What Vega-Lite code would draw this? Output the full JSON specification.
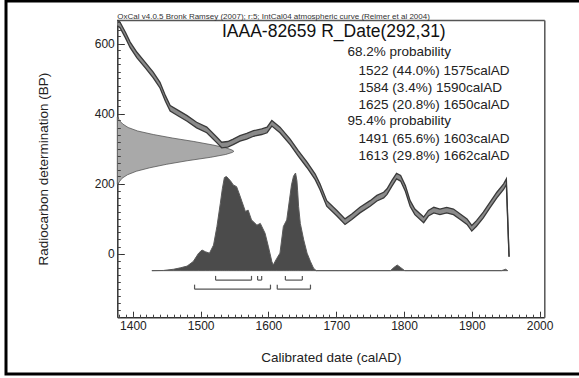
{
  "$schema": "https://vega.github.io/schema/vega-lite/v6.json",
  "width": 573,
  "height": 373,
  "autosize": "none",
  "padding": {"left": 6, "top": 1, "right": 0, "bottom": 4},
  "background": "white",
  "config": {
    "font": "Liberation Sans",
    "view": {"stroke": "black", "strokeWidth": 3, "strokeDash": [573, 373, 946]}
  },
  "datasets": {
    "curve": [
      {"year": 1377, "lo": 651, "hi": 667},
      {"year": 1381, "lo": 645, "hi": 661},
      {"year": 1389, "lo": 616, "hi": 632},
      {"year": 1396, "lo": 588, "hi": 604},
      {"year": 1406, "lo": 559, "hi": 575},
      {"year": 1418, "lo": 531, "hi": 547},
      {"year": 1430, "lo": 502, "hi": 518},
      {"year": 1440, "lo": 473, "hi": 489},
      {"year": 1448, "lo": 435, "hi": 451},
      {"year": 1455, "lo": 407, "hi": 423},
      {"year": 1467, "lo": 393, "hi": 409},
      {"year": 1480, "lo": 378, "hi": 394},
      {"year": 1494, "lo": 359, "hi": 375},
      {"year": 1509, "lo": 345, "hi": 361},
      {"year": 1524, "lo": 316, "hi": 332},
      {"year": 1531, "lo": 302, "hi": 318},
      {"year": 1540, "lo": 304, "hi": 320},
      {"year": 1548, "lo": 311, "hi": 327},
      {"year": 1558, "lo": 321, "hi": 337},
      {"year": 1568, "lo": 327, "hi": 343},
      {"year": 1578, "lo": 335, "hi": 351},
      {"year": 1590, "lo": 340, "hi": 356},
      {"year": 1598, "lo": 345, "hi": 361},
      {"year": 1605, "lo": 364, "hi": 380},
      {"year": 1617, "lo": 345, "hi": 361},
      {"year": 1632, "lo": 311, "hi": 327},
      {"year": 1644, "lo": 278, "hi": 294},
      {"year": 1657, "lo": 245, "hi": 261},
      {"year": 1669, "lo": 211, "hi": 227},
      {"year": 1676, "lo": 183, "hi": 199},
      {"year": 1686, "lo": 135, "hi": 151},
      {"year": 1701, "lo": 107, "hi": 123},
      {"year": 1713, "lo": 83, "hi": 99},
      {"year": 1723, "lo": 97, "hi": 113},
      {"year": 1735, "lo": 116, "hi": 132},
      {"year": 1750, "lo": 135, "hi": 151},
      {"year": 1760, "lo": 150, "hi": 166},
      {"year": 1770, "lo": 159, "hi": 175},
      {"year": 1775, "lo": 169, "hi": 185},
      {"year": 1782, "lo": 192, "hi": 208},
      {"year": 1789, "lo": 213, "hi": 229},
      {"year": 1795, "lo": 207, "hi": 223},
      {"year": 1802, "lo": 178, "hi": 194},
      {"year": 1809, "lo": 135, "hi": 151},
      {"year": 1816, "lo": 111, "hi": 127},
      {"year": 1829, "lo": 88, "hi": 104},
      {"year": 1836, "lo": 107, "hi": 123},
      {"year": 1844, "lo": 116, "hi": 132},
      {"year": 1853, "lo": 111, "hi": 127},
      {"year": 1863, "lo": 116, "hi": 132},
      {"year": 1873, "lo": 111, "hi": 127},
      {"year": 1883, "lo": 97, "hi": 113},
      {"year": 1893, "lo": 83, "hi": 99},
      {"year": 1900, "lo": 64, "hi": 80},
      {"year": 1907, "lo": 78, "hi": 94},
      {"year": 1917, "lo": 102, "hi": 118},
      {"year": 1927, "lo": 131, "hi": 147},
      {"year": 1937, "lo": 159, "hi": 175},
      {"year": 1947, "lo": 183, "hi": 199},
      {"year": 1951, "lo": 197, "hi": 213},
      {"year": 1955, "lo": -10, "hi": -8}
    ],
    "gauss": [
      {"bp": 198, "yr": 1378},
      {"bp": 205, "yr": 1380},
      {"bp": 215, "yr": 1384},
      {"bp": 225, "yr": 1392},
      {"bp": 235, "yr": 1405},
      {"bp": 245, "yr": 1425},
      {"bp": 255, "yr": 1450},
      {"bp": 265, "yr": 1480},
      {"bp": 275, "yr": 1515},
      {"bp": 283, "yr": 1537},
      {"bp": 289, "yr": 1547},
      {"bp": 292, "yr": 1549},
      {"bp": 296, "yr": 1546},
      {"bp": 302, "yr": 1537},
      {"bp": 310, "yr": 1518},
      {"bp": 320, "yr": 1490},
      {"bp": 330, "yr": 1458},
      {"bp": 340, "yr": 1430},
      {"bp": 350, "yr": 1407},
      {"bp": 360, "yr": 1393},
      {"bp": 370, "yr": 1385},
      {"bp": 380, "yr": 1380},
      {"bp": 390, "yr": 1378}
    ],
    "prob": [
      {"year": 1428, "p": -49}, {"year": 1445, "p": -48.5}, {"year": 1460, "p": -45},
      {"year": 1470, "p": -41}, {"year": 1480, "p": -36}, {"year": 1489, "p": -23},
      {"year": 1497, "p": 1}, {"year": 1502, "p": 10}, {"year": 1507, "p": 5},
      {"year": 1513, "p": 1}, {"year": 1519, "p": 24}, {"year": 1524, "p": 77},
      {"year": 1529, "p": 143}, {"year": 1532, "p": 185}, {"year": 1535, "p": 217},
      {"year": 1538, "p": 220}, {"year": 1541, "p": 214}, {"year": 1545, "p": 205},
      {"year": 1548, "p": 196}, {"year": 1553, "p": 191}, {"year": 1557, "p": 170},
      {"year": 1561, "p": 148}, {"year": 1566, "p": 120}, {"year": 1570, "p": 124},
      {"year": 1575, "p": 96}, {"year": 1583, "p": 81}, {"year": 1588, "p": 86},
      {"year": 1595, "p": 58}, {"year": 1600, "p": 19}, {"year": 1605, "p": -23},
      {"year": 1607, "p": -33}, {"year": 1612, "p": -15}, {"year": 1617, "p": 1},
      {"year": 1622, "p": 77}, {"year": 1627, "p": 96}, {"year": 1631, "p": 153},
      {"year": 1634, "p": 196}, {"year": 1637, "p": 221}, {"year": 1640, "p": 230},
      {"year": 1642, "p": 208}, {"year": 1643, "p": 181}, {"year": 1644.5, "p": 134},
      {"year": 1647, "p": 86}, {"year": 1652, "p": 39}, {"year": 1657, "p": 1},
      {"year": 1662, "p": -23}, {"year": 1666.5, "p": -42}, {"year": 1670.5, "p": -49},
      {"year": 1780, "p": -49}, {"year": 1785, "p": -40}, {"year": 1790, "p": -33},
      {"year": 1795, "p": -40}, {"year": 1801, "p": -49}, {"year": 1944, "p": -49},
      {"year": 1950, "p": -45}, {"year": 1953, "p": -49}
    ],
    "ranges": [
      {"from": 1522, "to": 1575, "level": "68.2%"},
      {"from": 1584, "to": 1590, "level": "68.2%"},
      {"from": 1625, "to": 1650, "level": "68.2%"},
      {"from": 1491, "to": 1603, "level": "95.4%"},
      {"from": 1613, "to": 1662, "level": "95.4%"}
    ],
    "one": [{}]
  },
  "resolve": {"axis": {"x": "independent", "y": "independent"}},
  "layer": [
    {
      "data": {"name": "gauss"},
      "mark": {"type": "area", "orient": "horizontal", "fill": "#a9a9a9", "stroke": "#555", "strokeWidth": 0.8},
      "encoding": {
        "y": {"field": "bp", "type": "quantitative",
          "scale": {"domain": [-182, 667], "range": [316.2, 19.05], "nice": false, "zero": false},
          "axis": {"orient": "left", "offset": -111.3, "values": [0, 200, 400, 600], "format": "d",
            "ticks": false, "grid": false, "domainColor": "#333", "domainWidth": 1.5,
            "labelFontSize": 12, "labelColor": "#222", "labelPadding": 3,
            "title": "Radiocarbon determination (BP)", "titleFontSize": 13.5, "titleFontWeight": "normal",
            "titleColor": "#222", "titlePadding": 44}},
        "x": {"field": "yr", "type": "quantitative",
          "scale": {"domain": [1377, 2007], "range": [111.3, 538.3], "nice": false, "zero": false},
          "axis": {"orient": "bottom", "offset": -56.8, "values": [1400, 1500, 1600, 1700, 1800, 1900, 2000], "format": "d",
            "ticks": false, "grid": false, "domainColor": "#333", "domainWidth": 1.5,
            "labelFontSize": 12, "labelColor": "#222", "labelPadding": 3, "labelFlush": false,
            "title": "Calibrated date (calAD)", "titleFontSize": 13.5, "titleFontWeight": "normal",
            "titleColor": "#222", "titlePadding": 19}},
        "x2": {"datum": 1377}
      }
    },
    {
      "data": {"name": "curve"},
      "mark": {"type": "area", "fill": "#8a8a8a"},
      "encoding": {
        "x": {"field": "year", "type": "quantitative",
          "axis": {"orient": "top", "offset": -316.2, "values": [1400, 1500, 1600, 1700, 1800, 1900, 2000],
            "labels": false, "domain": false, "grid": false, "tickSize": 6, "tickColor": "#333", "tickWidth": 1,
            "title": null, "zindex": 1}},
        "y": {"field": "lo", "type": "quantitative",
          "axis": {"orient": "right", "offset": -461.7, "values": [0, 200, 400, 600],
            "labels": false, "domain": false, "grid": false, "tickSize": 7, "tickColor": "#333", "tickWidth": 1,
            "title": null, "zindex": 1}},
        "y2": {"field": "hi"}
      }
    },
    {
      "data": {"name": "curve"},
      "mark": {"type": "line", "stroke": "#3a3a3a", "strokeWidth": 1.3},
      "encoding": {
        "x": {"field": "year", "type": "quantitative",
          "axis": {"orient": "top", "offset": -316.2, "tickCount": 63,
            "labels": false, "domain": false, "grid": false, "tickSize": 3, "tickColor": "#444", "tickWidth": 1,
            "title": null, "zindex": 1}},
        "y": {"field": "hi", "type": "quantitative",
          "axis": {"orient": "right", "offset": -461.7, "tickCount": 42,
            "labels": false, "domain": false, "grid": false, "tickSize": 3, "tickColor": "#444", "tickWidth": 1,
            "title": null, "zindex": 1}}
      }
    },
    {
      "data": {"name": "curve"},
      "mark": {"type": "line", "stroke": "#3a3a3a", "strokeWidth": 1.3},
      "encoding": {
        "x": {"field": "year", "type": "quantitative",
          "axis": {"orient": "top", "offset": -19.05, "labels": false, "ticks": false, "grid": false,
            "domainColor": "#555", "domainWidth": 1.5, "title": null}},
        "y": {"field": "lo", "type": "quantitative",
          "axis": {"orient": "right", "offset": -34.7, "labels": false, "ticks": false, "grid": false,
            "domainColor": "#555", "domainWidth": 1.5, "title": null}}
      }
    },
    {
      "data": {"name": "prob"},
      "mark": {"type": "area", "fill": "#4b4b4b", "stroke": "#5a5a5a", "strokeWidth": 1},
      "encoding": {
        "x": {"field": "year", "type": "quantitative", "axis": null},
        "y": {"field": "p", "type": "quantitative", "axis": null},
        "y2": {"datum": -49}
      }
    },
    {
      "data": {"name": "ranges"},
      "transform": [{"filter": "datum.level === '68.2%'"}],
      "mark": {"type": "rule", "stroke": "#555", "strokeWidth": 1.2},
      "encoding": {
        "x": {"field": "from", "type": "quantitative", "axis": null},
        "x2": {"field": "to"},
        "y": {"datum": -76, "type": "quantitative", "axis": null}
      }
    },
    {
      "data": {"name": "ranges"},
      "transform": [{"filter": "datum.level === '68.2%'"}, {"fold": ["from", "to"], "as": ["end", "yr"]}],
      "mark": {"type": "rule", "stroke": "#555", "strokeWidth": 1.2},
      "encoding": {
        "x": {"field": "yr", "type": "quantitative", "axis": null},
        "y": {"datum": -76, "type": "quantitative", "axis": null},
        "y2": {"datum": -64}
      }
    },
    {
      "data": {"name": "ranges"},
      "transform": [{"filter": "datum.level === '95.4%'"}],
      "mark": {"type": "rule", "stroke": "#555", "strokeWidth": 1.2},
      "encoding": {
        "x": {"field": "from", "type": "quantitative", "axis": null},
        "x2": {"field": "to"},
        "y": {"datum": -102, "type": "quantitative", "axis": null}
      }
    },
    {
      "data": {"name": "ranges"},
      "transform": [{"filter": "datum.level === '95.4%'"}, {"fold": ["from", "to"], "as": ["end", "yr"]}],
      "mark": {"type": "rule", "stroke": "#555", "strokeWidth": 1.2},
      "encoding": {
        "x": {"field": "yr", "type": "quantitative", "axis": null},
        "y": {"datum": -102, "type": "quantitative", "axis": null},
        "y2": {"datum": -89}
      }
    },
    {
      "data": {"name": "one"},
      "mark": {"type": "text", "align": "left", "baseline": "alphabetic", "fontSize": 8, "color": "#333", "dy": -1.5},
      "encoding": {
        "x": {"datum": 1377, "type": "quantitative", "axis": null},
        "y": {"datum": 667, "type": "quantitative", "axis": null},
        "text": {"value": "OxCal v4.0.5 Bronk Ramsey (2007); r:5; IntCal04 atmospheric curve (Reimer et al 2004)"}
      }
    },
    {
      "data": {"name": "one"},
      "mark": {"type": "text", "align": "left", "baseline": "alphabetic", "fontSize": 17.5, "color": "#111"},
      "encoding": {
        "x": {"datum": 1531.4, "type": "quantitative", "axis": null},
        "y": {"datum": 617.7, "type": "quantitative", "axis": null},
        "text": {"value": "IAAA-82659 R_Date(292,31)"}
      }
    },
    {
      "data": {"name": "one"},
      "mark": {"type": "text", "align": "left", "baseline": "alphabetic", "fontSize": 13.5, "color": "#222"},
      "encoding": {
        "x": {"datum": 1716.7, "type": "quantitative", "axis": null},
        "y": {"datum": 565, "type": "quantitative", "axis": null},
        "text": {"value": "68.2% probability"}
      }
    },
    {
      "data": {"name": "one"},
      "mark": {"type": "text", "align": "left", "baseline": "alphabetic", "fontSize": 13.5, "color": "#222", "lineHeight": 17},
      "encoding": {
        "x": {"datum": 1733, "type": "quantitative", "axis": null},
        "y": {"datum": 510, "type": "quantitative", "axis": null},
        "text": {"value": ["1522 (44.0%) 1575calAD", "1584 (3.4%) 1590calAD", "1625 (20.8%) 1650calAD"]}
      }
    },
    {
      "data": {"name": "one"},
      "mark": {"type": "text", "align": "left", "baseline": "alphabetic", "fontSize": 13.5, "color": "#222"},
      "encoding": {
        "x": {"datum": 1716.7, "type": "quantitative", "axis": null},
        "y": {"datum": 367, "type": "quantitative", "axis": null},
        "text": {"value": "95.4% probability"}
      }
    },
    {
      "data": {"name": "one"},
      "mark": {"type": "text", "align": "left", "baseline": "alphabetic", "fontSize": 13.5, "color": "#222", "lineHeight": 16.7},
      "encoding": {
        "x": {"datum": 1733, "type": "quantitative", "axis": null},
        "y": {"datum": 315, "type": "quantitative", "axis": null},
        "text": {"value": ["1491 (65.6%) 1603calAD", "1613 (29.8%) 1662calAD"]}
      }
    }
  ]
}
